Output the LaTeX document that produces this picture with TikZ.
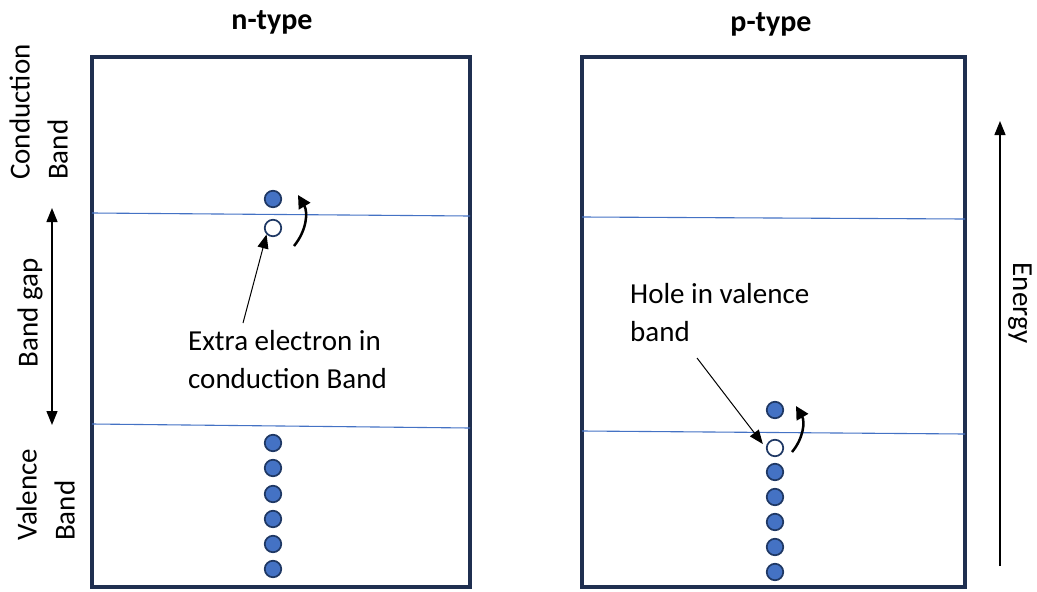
\documentclass[tikz,border=0pt]{standalone}
\usepackage{fontspec}
\setmainfont{Carlito}
\usetikzlibrary{arrows.meta}
\definecolor{boxnavy}{HTML}{1F2F50}
\definecolor{bandblue}{HTML}{4472C4}
\definecolor{dotedge}{HTML}{1F3864}
\tikzset{
  panel/.style={draw=boxnavy, line width=3.2pt},
  bandline/.style={draw=bandblue, line width=1.1pt},
  electron/.style={circle, draw=dotedge, fill=bandblue, line width=1.7pt, minimum size=16.5pt, inner sep=0pt},
  hole/.style={circle, draw=dotedge, fill=white, line width=1.7pt, minimum size=16.5pt, inner sep=0pt},
  hop/.style={-{Triangle[length=13pt,width=13pt]}, line width=2.5pt},
  pointer/.style={-{Triangle[length=14pt,width=11pt]}, line width=1pt},
  axisarrow/.style={line width=1.3pt},
  lbl/.style={font=\fontsize{29}{38}\selectfont, inner sep=0pt, align=left},
  heading/.style={font=\fontsize{30}{34}\selectfont\bfseries, inner sep=0pt},
}
\begin{document}
\begin{tikzpicture}[x=1pt,y=-1pt]
\useasboundingbox (0,0) rectangle (1037,592);

% titles
\node[heading] (tn) at (272,22) {n-type};
\node[heading] (tp) at (771,24) {p-type};

% panels
\draw[panel] (92,57) rectangle (470,587);
\draw[panel] (582,57) rectangle (965,587);

% band edges
\draw[bandline] (92,213) -- (470,216);
\draw[bandline] (92,424) -- (470,428);
\draw[bandline] (582,217) -- (965,219);
\draw[bandline] (582,431) -- (965,434);

% n-type: donor electron promoted into the conduction band
\node[electron] (e1) at (273,199) {};
\node[hole] (h1) at (273,228) {};
\foreach \i/\y in {1/443,2/468,3/494,4/519,5/544,6/569}
  \node[electron] (nv\i) at (273,\y) {};
\coordinate (n0) at (294,246);
\coordinate (n1) at (298,195);
\draw[hop] (n0) to[bend right=35] (n1);

\node[lbl, anchor=west] (txt1) at (188,360) {Extra electron in\\conduction Band};
\coordinate (p1) at (243,323);
\draw[pointer] (p1) -- (h1.south west);

% p-type: hole left behind in the valence band
\node[electron] (e2) at (775,410) {};
\node[hole] (h2) at (775,448) {};
\foreach \i/\y in {1/472,2/497,3/522,4/547,5/572}
  \node[electron] (pv\i) at (775,\y) {};
\coordinate (q0) at (792,452);
\coordinate (q1) at (796,406);
\draw[hop] (q0) to[bend right=35] (q1);

\node[lbl, anchor=west] (txt2) at (630,313) {Hole in valence\\band};
\coordinate (p2) at (697,358);
\draw[pointer, shorten >=5pt] (p2) -- (h2.west);

% axis labels on the left
\node[lbl, rotate=90, anchor=south west] (cb) at (68,180) {Conduction\\Band};
\node[lbl, rotate=90] (bg) at (30,313) {Band gap};
\node[lbl, rotate=90, anchor=south west] (vb) at (75,541) {Valence\\Band};
\coordinate (g0) at (52,208);
\coordinate (g1) at (52,425);
\draw[axisarrow, {Triangle[length=14pt,width=11pt]}-{Triangle[length=14pt,width=11pt]}] (g0) -- (g1);

% energy axis
\coordinate (en0) at (1000,566);
\coordinate (en1) at (1000,121);
\draw[axisarrow, -{Triangle[length=14pt,width=11pt]}] (en0) -- (en1);
\node[lbl, rotate=-90] (en) at (1020,303) {Energy};
\end{tikzpicture}
\end{document}
